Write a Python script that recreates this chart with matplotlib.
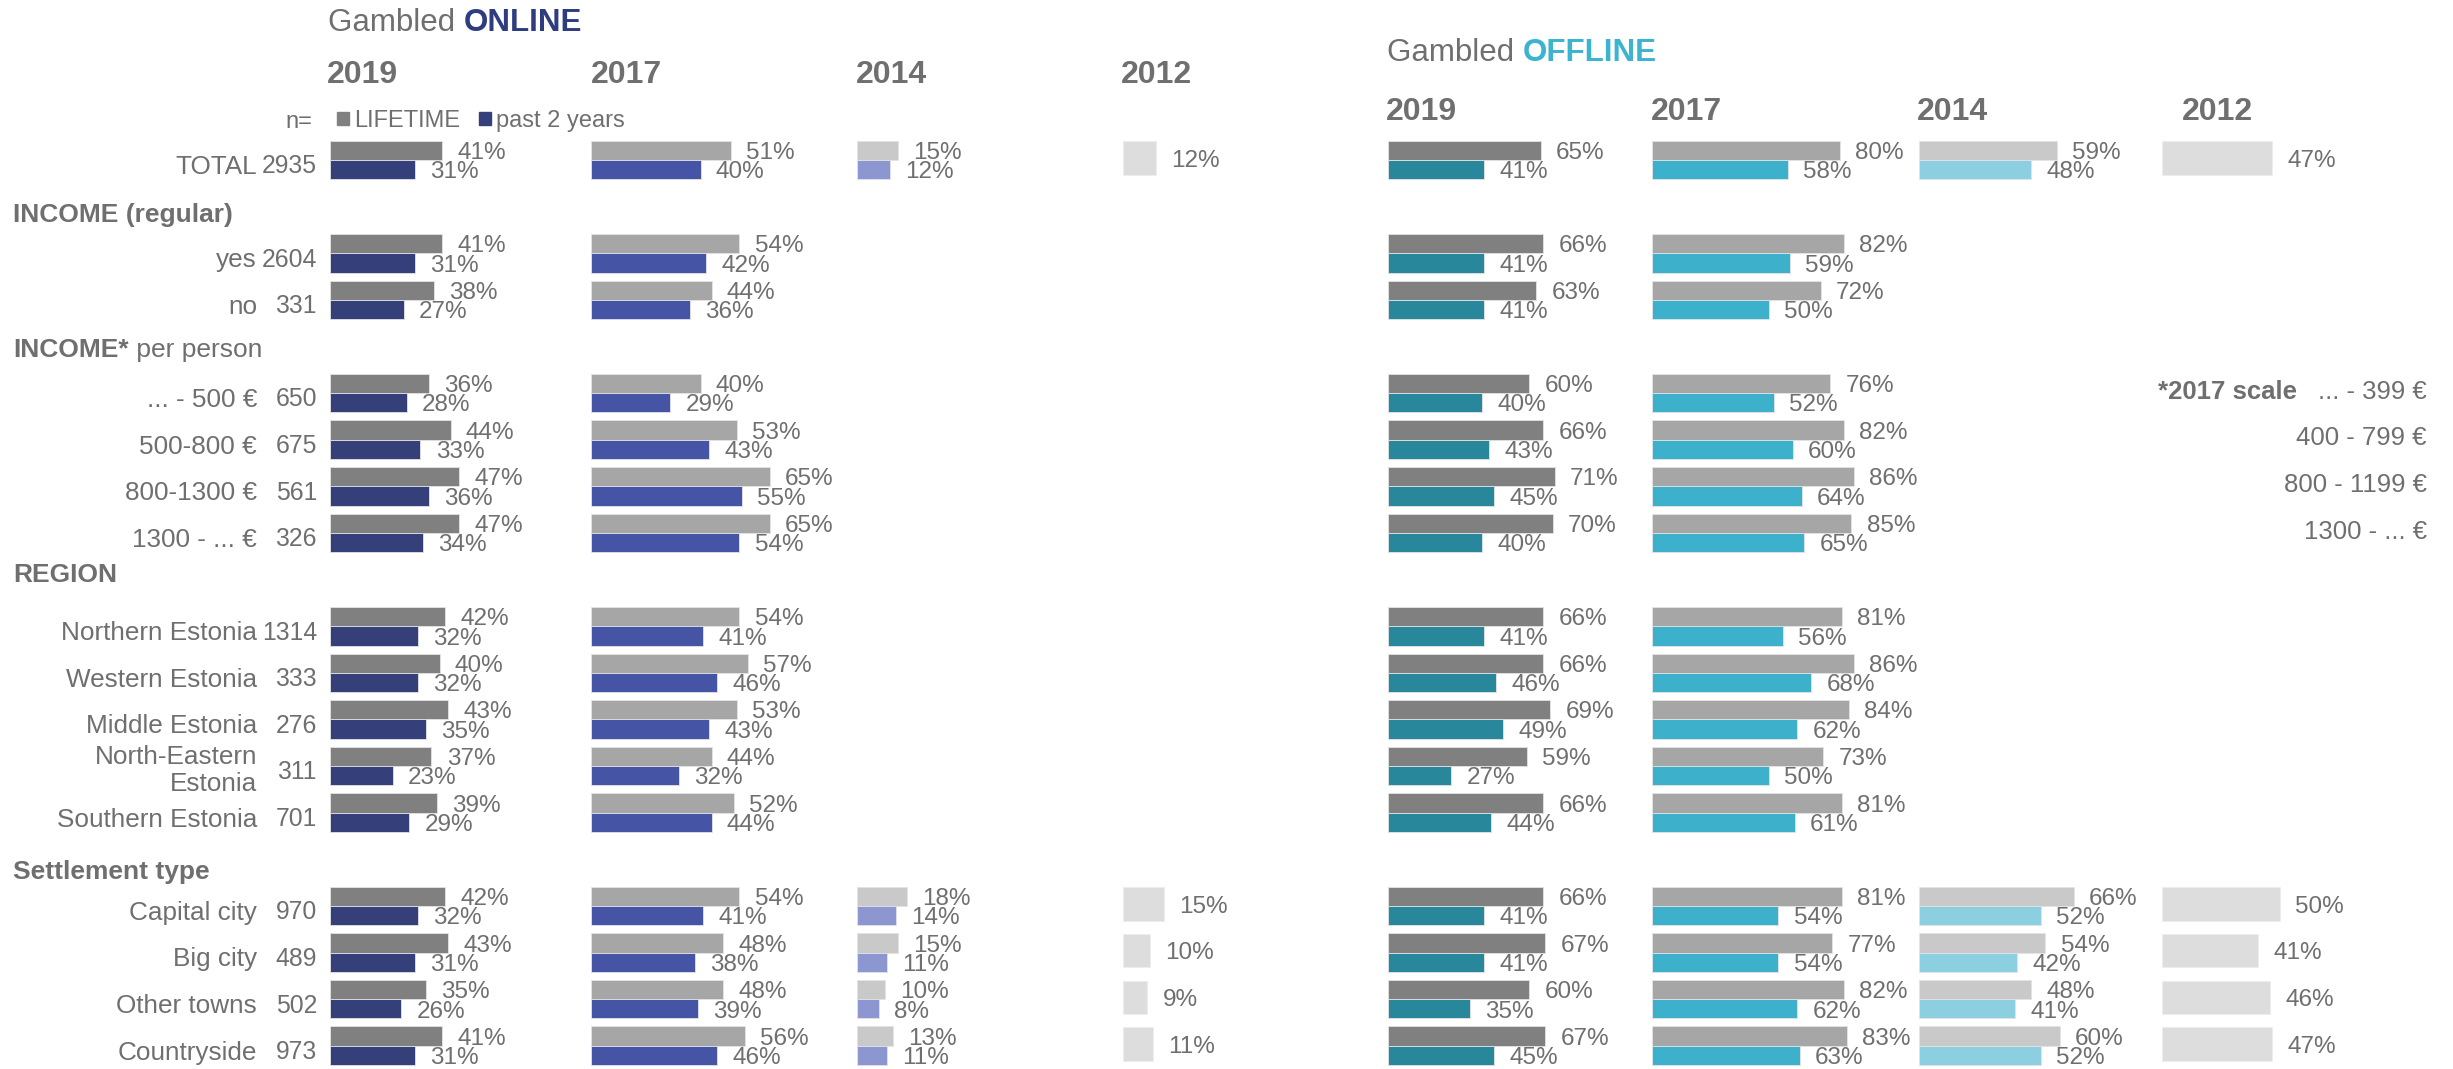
import matplotlib
matplotlib.use("Agg")
import matplotlib.pyplot as plt
from matplotlib.patches import Patch

plt.rcParams['font.family'] = ['Liberation Sans', 'DejaVu Sans']

# ---------------- data ----------------
categories = ["TOTAL", "yes", "no", "... - 500 €", "500-800 €", "800-1300 €", "1300 - ... €",
              "Northern Estonia", "Western Estonia", "Middle Estonia", "North-Eastern\nEstonia",
              "Southern Estonia", "Capital city", "Big city", "Other towns", "Countryside"]
n_values = [2935, 2604, 331, 650, 675, 561, 326, 1314, 333, 276, 311, 701, 970, 489, 502, 973]
group_headers = ["INCOME (regular)", "INCOME*", "REGION", "Settlement type"]
years = ["2019", "2017", "2014", "2012"]
scale_2017 = ["... - 399 €", "400 - 799 €", "800 - 1199 €", "1300 - ... €"]

N = None
online_2019_life = [41, 41, 38, 36, 44, 47, 47, 42, 40, 43, 37, 39, 42, 43, 35, 41]
online_2019_p2y = [31, 31, 27, 28, 33, 36, 34, 32, 32, 35, 23, 29, 32, 31, 26, 31]
online_2017_life = [51, 54, 44, 40, 53, 65, 65, 54, 57, 53, 44, 52, 54, 48, 48, 56]
online_2017_p2y = [40, 42, 36, 29, 43, 55, 54, 41, 46, 43, 32, 44, 41, 38, 39, 46]
online_2014_life = [15, N, N, N, N, N, N, N, N, N, N, N, 18, 15, 10, 13]
online_2014_p2y = [12, N, N, N, N, N, N, N, N, N, N, N, 14, 11, 8, 11]
online_2012 = [12, N, N, N, N, N, N, N, N, N, N, N, 15, 10, 9, 11]

offline_2019_life = [65, 66, 63, 60, 66, 71, 70, 66, 66, 69, 59, 66, 66, 67, 60, 67]
offline_2019_p2y = [41, 41, 41, 40, 43, 45, 40, 41, 46, 49, 27, 44, 41, 41, 35, 45]
offline_2017_life = [80, 82, 72, 76, 82, 86, 85, 81, 86, 84, 73, 81, 81, 77, 82, 83]
offline_2017_p2y = [58, 59, 50, 52, 60, 64, 65, 56, 68, 62, 50, 61, 54, 54, 62, 63]
offline_2014_life = [59, N, N, N, N, N, N, N, N, N, N, N, 66, 54, 48, 60]
offline_2014_p2y = [48, N, N, N, N, N, N, N, N, N, N, N, 52, 42, 41, 52]
offline_2012 = [47, N, N, N, N, N, N, N, N, N, N, N, 50, 41, 46, 47]

# ---------------- layout ----------------
W, H = 2453, 1069
ROW0_PX, PITCH = 160.0, 46.62
row_pos = [0, 2, 3, 5, 6, 7, 8, 10, 11, 12, 13, 14, 16, 17, 18, 19]
header_pos_px = [212.5, 348.0, 572.3, 870.0]
R_TOP = -ROW0_PX / PITCH
R_BOT = (H - ROW0_PX) / PITCH
BAR_H = 0.414
SINGLE_H = 0.715
CAP = 0.358          # half cap height of Liberation Sans, in em

FS_PCT = 17.5
FS_CAT = 18.8
FS_N = 17.8
FS_HEAD = 19
FS_YEAR = 23
FS_TITLE = 22.5
FS_LEG = 17

TXT = '#6f6f6f'
LIFE_COLS = ['#808080', '#a6a6a6', '#c9c9c9']
ONLINE_P2Y = ['#353f7a', '#4654a6', '#8c97d1']
OFFLINE_P2Y = ['#28879b', '#3db1cc', '#8bcfe0']
C2012 = '#dddddd'

fig = plt.figure(figsize=(W / 100, H / 100), dpi=100)


def em_px(fs):
    return fs * 100 / 72.0


def px2r(px):
    return (px - ROW0_PX) / PITCH


def base_r(center_px, fs):
    """row coordinate of the baseline so that cap height is centred on center_px"""
    return px2r(center_px + CAP * em_px(fs))


def panel(x_px, scale):
    ax = fig.add_axes([x_px / W, 0, 100 * scale / W, 1])
    ax.set_xlim(0, 100)
    ax.set_ylim(R_BOT, R_TOP)
    ax.axis('off')
    return ax


def label(ax, v, y):
    ax.annotate(f"{v}%", xy=(v, y), xytext=(11.0, -CAP * FS_PCT), textcoords='offset points',
                va='baseline', ha='left', fontsize=FS_PCT, color=TXT)


def pair(ax, life, p2y, c_life, c_p2y):
    ys, lv, pv = [], [], []
    for r, a, b in zip(row_pos, life, p2y):
        if a is None:
            continue
        ys.append(r); lv.append(a); pv.append(b)
    ax.barh([y - BAR_H / 2 for y in ys], lv, height=BAR_H, color=c_life,
            edgecolor='#e4e4e4', linewidth=0.6)
    ax.barh([y + BAR_H / 2 for y in ys], pv, height=BAR_H, color=c_p2y,
            edgecolor='#e4e4e4', linewidth=0.6)
    for y, a, b in zip(ys, lv, pv):
        label(ax, a, y - BAR_H / 2)
        label(ax, b, y + BAR_H / 2)


def single(ax, vals):
    ys = [r - 0.04 for r, v in zip(row_pos, vals) if v is not None]
    vv = [v for v in vals if v is not None]
    ax.barh(ys, vv, height=SINGLE_H, color=C2012, edgecolor='#eeeeee', linewidth=0.6)
    for y, v in zip(ys, vv):
        label(ax, v, y)


on_x = [329.5, 590.5, 857.0, 1122.7]
on_scale = 2.755
off_x = [1388.0, 1651.5, 1918.5, 2162.0]
off_scale = 2.35

ax = panel(on_x[0], on_scale); pair(ax, online_2019_life, online_2019_p2y, LIFE_COLS[0], ONLINE_P2Y[0])
ax = panel(on_x[1], on_scale); pair(ax, online_2017_life, online_2017_p2y, LIFE_COLS[1], ONLINE_P2Y[1])
ax = panel(on_x[2], on_scale); pair(ax, online_2014_life, online_2014_p2y, LIFE_COLS[2], ONLINE_P2Y[2])
ax = panel(on_x[3], on_scale); single(ax, online_2012)

ax = panel(off_x[0], off_scale); pair(ax, offline_2019_life, offline_2019_p2y, LIFE_COLS[0], OFFLINE_P2Y[0])
ax = panel(off_x[1], off_scale); pair(ax, offline_2017_life, offline_2017_p2y, LIFE_COLS[1], OFFLINE_P2Y[1])
ax = panel(off_x[2], off_scale); pair(ax, offline_2014_life, offline_2014_p2y, LIFE_COLS[2], OFFLINE_P2Y[2])
ax = panel(off_x[3], off_scale); single(ax, offline_2012)

# text layer
lab = fig.add_axes([0, 0, 1, 1])
lab.set_xlim(0, W)
lab.set_ylim(R_BOT, R_TOP)
lab.axis('off')

for r, c, n in zip(row_pos, categories, n_values):
    cy = ROW0_PX + r * PITCH + 4.5
    if "\n" in c:
        lab.text(257, px2r(cy), c, ha='right', va='center', fontsize=FS_CAT, color=TXT,
                 linespacing=1.15)
    else:
        lab.text(257, base_r(cy, FS_CAT), c, ha='right', va='baseline', fontsize=FS_CAT, color=TXT)
    lab.text(317, base_r(cy, FS_N), str(n), ha='right', va='baseline', fontsize=FS_N, color=TXT)

for hp, h in zip(header_pos_px, group_headers):
    t = lab.text(13, base_r(hp, FS_HEAD), h, ha='left', va='baseline', fontsize=FS_HEAD,
                 color=TXT, fontweight='bold')
    if h == "INCOME*":
        lab.annotate(" per person", xy=(1, 0), xycoords=t, va='bottom', ha='left',
                     fontsize=FS_HEAD, color=TXT)

# titles
t = lab.text(328, base_r(20, FS_TITLE), "Gambled ", ha='left', va='baseline', fontsize=FS_TITLE, color=TXT)
lab.annotate("ONLINE", xy=(1, 0), xycoords=t, va='bottom', ha='left', fontsize=FS_TITLE,
             color='#2f3d80', fontweight='bold')
t = lab.text(1387, base_r(49.5, FS_TITLE), "Gambled ", ha='left', va='baseline', fontsize=FS_TITLE, color=TXT)
lab.annotate("OFFLINE", xy=(1, 0), xycoords=t, va='bottom', ha='left', fontsize=FS_TITLE,
             color='#3cb3cf', fontweight='bold')

for x, yr in zip([327, 591, 856, 1121], years):
    lab.text(x, base_r(71.7, FS_YEAR), yr, ha='left', va='baseline', fontsize=FS_YEAR,
             color=TXT, fontweight='bold')
for x, yr in zip([1386, 1651, 1917, 2182], years):
    lab.text(x, base_r(108.7, FS_YEAR), yr, ha='left', va='baseline', fontsize=FS_YEAR,
             color=TXT, fontweight='bold')

# legend
lab.text(312, px2r(128.3), "n=", ha='right', va='baseline', fontsize=FS_LEG, color=TXT)
fig.legend(handles=[Patch(color=LIFE_COLS[0], label='LIFETIME'),
                    Patch(color=ONLINE_P2Y[0], label='past 2 years')],
           loc='center left', bbox_to_anchor=(337 / W, 1 - 121 / H), ncol=2, frameon=False,
           fontsize=FS_LEG, labelcolor=TXT, handlelength=0.5, handleheight=0.5,
           handletextpad=0.22, columnspacing=0.8, borderaxespad=0, borderpad=0)

# 2017 income scale note
for i, s in enumerate(scale_2017):
    r = row_pos[3 + i]
    cy = ROW0_PX + r * PITCH - 3.5
    t = lab.text(2427, base_r(cy, 18.5), s, ha='right', va='baseline', fontsize=18.5, color=TXT)
    if i == 0:
        lab.annotate("*2017 scale   ", xy=(0, 0), xycoords=t, va='bottom', ha='right',
                     fontsize=18.5, color=TXT, fontweight='bold')

fig.savefig("out.png", dpi=100)
